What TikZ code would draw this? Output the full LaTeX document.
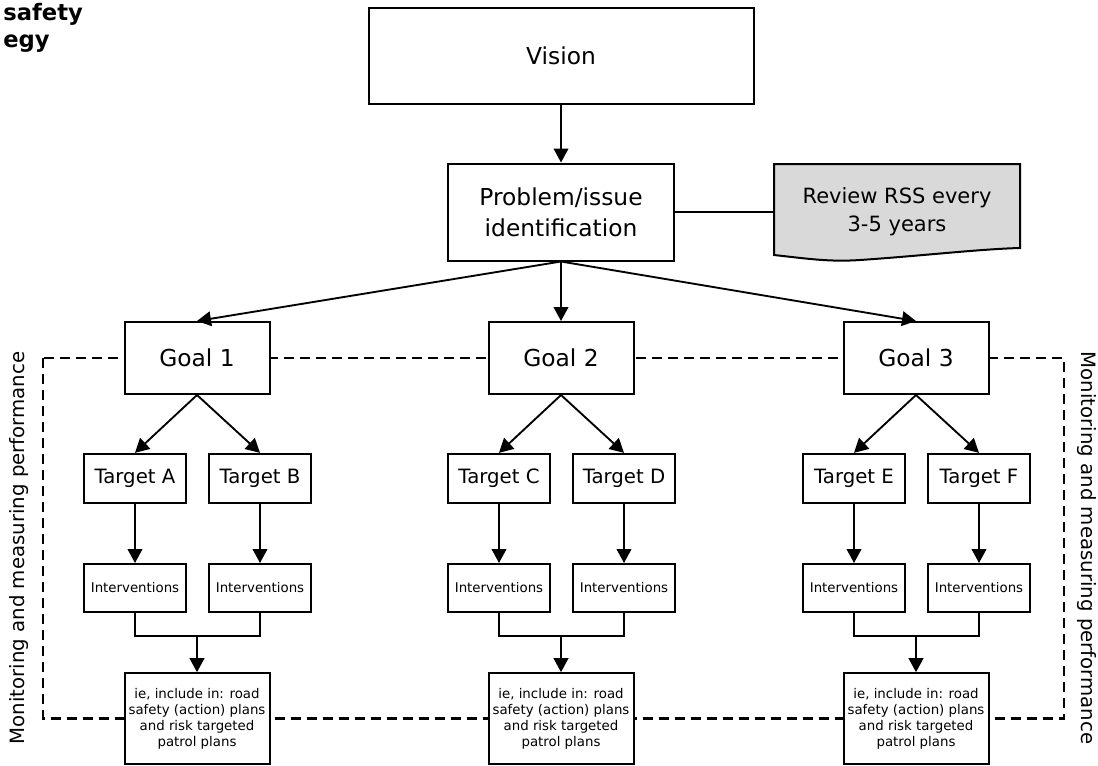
\documentclass[tikz,border=0pt]{standalone}
\usepackage{fontspec}
\setmainfont{DejaVu Sans}
\usetikzlibrary{arrows.meta,positioning}

\begin{document}
\begin{tikzpicture}[x=0.75pt,y=-0.75pt,>={Triangle[length=10.5pt,width=11pt]}]
\useasboundingbox (0,0) rectangle (1098,765);

\tikzstyle{bigbox}=[draw,fill=white,line width=1.5pt,inner sep=0pt,align=center,font=\fontsize{17.5}{23}\selectfont]
\tikzstyle{goalbox}=[bigbox,minimum width=108.75pt,minimum height=54pt]
\tikzstyle{tgtbox}=[draw,fill=white,line width=1.5pt,minimum width=77pt,minimum height=37pt,font=\fontsize{14.8}{17}\selectfont]
\tikzstyle{intbox}=[draw,fill=white,line width=1.5pt,minimum width=76.5pt,minimum height=36pt,font=\fontsize{10}{12}\selectfont]
\tikzstyle{planbox}=[draw,fill=white,line width=1.5pt,minimum width=108.75pt,minimum height=68pt,inner sep=0pt,align=center,font=\fontsize{10}{12}\selectfont]
\tikzstyle{flow}=[->,line width=1.4pt]
\tikzstyle{joinline}=[line width=1.4pt]
\tikzstyle{monframe}=[line width=1.8pt,dash pattern=on 7.5pt off 4.5pt]
\tikzstyle{sidetext}=[font=\fontsize{14.8}{17}\selectfont]

%% Monitoring frame (boxes are drawn over it)
\draw[monframe] (43,358) rectangle (1064,718.5);

%% Title
\node[anchor=north west,align=left,inner sep=0pt,font=\bfseries\fontsize{17}{20}\selectfont] (title) at (3,3) {safety\\egy};

%% Top of the strategy
\node[bigbox,minimum width=288.75pt,minimum height=72pt] (vision) at (561,56) {Vision};
\node[bigbox,minimum width=169.5pt,minimum height=72.75pt] (problem) at (561,212) {Problem/issue\\identification};

%% Review note
\draw[line width=1.5pt,fill=black!15] (774,164) -- (1020,164) -- (1020,248)
    .. controls (980,249) and (920,256) .. (860,260)
    .. controls (830,262) and (810,259) .. (774,255) -- cycle;
\node[minimum width=184.5pt,minimum height=72pt,inner sep=0pt,align=center,font=\fontsize{15.75}{21}\selectfont] (review) at (897,212) {Review RSS every\\3-5 years};

%% Goal 1 branch
\begin{scope}[shift={(197,0)}]
    \node[goalbox] (goal1) at (0,358) {Goal 1};
    \node[tgtbox] (tgtA) at (-62,478.5) {Target A};
    \node[tgtbox] (tgtB) at (63,478.5) {Target B};
    \node[intbox] (intA) at (-62,588) {Interventions};
    \node[intbox] (intB) at (63,588) {Interventions};
    \coordinate (join1) at (0,636);
    \node[planbox] (plan1) at (0,718.5) {ie, include in: road\\safety (action) plans\\and risk targeted\\patrol plans};
\end{scope}

%% Goal 2 branch
\begin{scope}[shift={(561,0)}]
    \node[goalbox] (goal2) at (0,358) {Goal 2};
    \node[tgtbox] (tgtC) at (-62,478.5) {Target C};
    \node[tgtbox] (tgtD) at (63,478.5) {Target D};
    \node[intbox] (intC) at (-62,588) {Interventions};
    \node[intbox] (intD) at (63,588) {Interventions};
    \coordinate (join2) at (0,636);
    \node[planbox] (plan2) at (0,718.5) {ie, include in: road\\safety (action) plans\\and risk targeted\\patrol plans};
\end{scope}

%% Goal 3 branch
\begin{scope}[shift={(916,0)}]
    \node[goalbox] (goal3) at (0,358) {Goal 3};
    \node[tgtbox] (tgtE) at (-62,478.5) {Target E};
    \node[tgtbox] (tgtF) at (63,478.5) {Target F};
    \node[intbox] (intE) at (-62,588) {Interventions};
    \node[intbox] (intF) at (63,588) {Interventions};
    \coordinate (join3) at (0,636);
    \node[planbox] (plan3) at (0,718.5) {ie, include in: road\\safety (action) plans\\and risk targeted\\patrol plans};
\end{scope}

%% Side labels
\node[sidetext,rotate=90] (monL) at (19,548) {Monitoring and measuring performance};
\node[sidetext,rotate=-90] (monR) at (1087,548) {Monitoring and measuring performance};

%% Connectors
\draw[flow] (vision.south) -- (problem.north);
\draw[joinline] (problem.east) -- (review.west);
\draw[flow] (problem.south) -- (goal1.north);
\draw[flow] (problem.south) -- (goal2.north);
\draw[flow] (problem.south) -- (goal3.north);

\draw[flow] (goal1.south) -- (tgtA.north);
\draw[flow] (goal1.south) -- (tgtB.north);
\draw[flow] (goal2.south) -- (tgtC.north);
\draw[flow] (goal2.south) -- (tgtD.north);
\draw[flow] (goal3.south) -- (tgtE.north);
\draw[flow] (goal3.south) -- (tgtF.north);

\draw[flow] (tgtA) -- (intA);
\draw[flow] (tgtB) -- (intB);
\draw[flow] (tgtC) -- (intC);
\draw[flow] (tgtD) -- (intD);
\draw[flow] (tgtE) -- (intE);
\draw[flow] (tgtF) -- (intF);

\draw[joinline] (intA.south) |- (join1) -| (intB.south);
\draw[joinline] (intC.south) |- (join2) -| (intD.south);
\draw[joinline] (intE.south) |- (join3) -| (intF.south);
\draw[flow] (join1) -- (plan1);
\draw[flow] (join2) -- (plan2);
\draw[flow] (join3) -- (plan3);

\end{tikzpicture}
\end{document}
